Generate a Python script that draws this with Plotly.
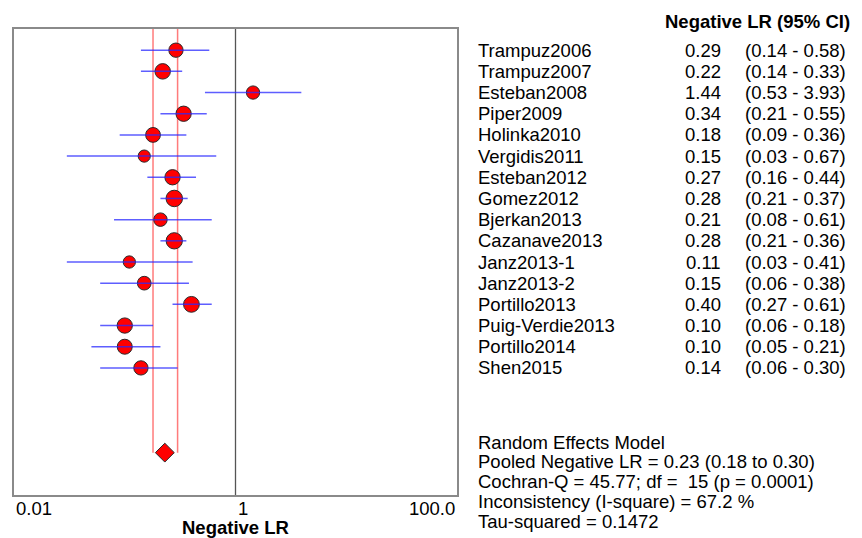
import math
import plotly.graph_objects as go

# Study-level negative likelihood ratios with 95% confidence intervals
studies = ["Trampuz2006", "Trampuz2007", "Esteban2008", "Piper2009", "Holinka2010",
           "Vergidis2011", "Esteban2012", "Gomez2012", "Bjerkan2013", "Cazanave2013",
           "Janz2013-1", "Janz2013-2", "Portillo2013", "Puig-Verdie2013", "Portillo2014",
           "Shen2015"]
neg_lr = [0.29, 0.22, 1.44, 0.34, 0.18, 0.15, 0.27, 0.28, 0.21, 0.28,
          0.11, 0.15, 0.40, 0.10, 0.10, 0.14]
ci_low = [0.14, 0.14, 0.53, 0.21, 0.09, 0.03, 0.16, 0.21, 0.08, 0.21,
          0.03, 0.06, 0.27, 0.06, 0.05, 0.06]
ci_high = [0.58, 0.33, 3.93, 0.55, 0.36, 0.67, 0.44, 0.37, 0.61, 0.36,
           0.41, 0.38, 0.61, 0.18, 0.21, 0.30]

# Relative study weights (marker area scaling)
weights = [14.3, 15.5, 13.3, 15.3, 14.8, 12.2, 15.3, 16.5, 13.5, 16.3,
           12.3, 13.7, 15.8, 15.3, 15.0, 14.3]

# Pooled random-effects estimate
pooled = 0.23
pooled_low = 0.18
pooled_high = 0.30

# Axis ticks
tick_vals = [0.01, 1, 100]
tick_text = ["0.01", "1", "100.0"]

summary_lines = [
    "Random Effects Model",
    "Pooled Negative LR = 0.23 (0.18 to 0.30)",
    "Cochran-Q = 45.77; df =  15 (p = 0.0001)",
    "Inconsistency (I-square) = 67.2 %",
    "Tau-squared = 0.1472",
]

FONT = "Liberation Sans, Arial, sans-serif"
FS = 18.5
W, H = 862, 538
ML, MR, MT, MB = 14, 405, 29, 43
PW, PH = W - ML - MR, H - MT - MB

rows = list(range(len(studies)))
pooled_row = 19


def paper_x(px):
    return (px - ML) / PW


def paper_y(py):
    return 1 - (py - MT) / PH


fig = go.Figure()

# Study point estimates
fig.add_trace(go.Scatter(
    x=neg_lr, y=rows, mode="markers",
    marker=dict(color="#ff0000", size=weights, opacity=1,
                line=dict(color="#2a2a2a", width=1)),
    hoverinfo="skip", showlegend=False,
))

# Confidence interval segments
ci_x, ci_y = [], []
for lo, hi, r in zip(ci_low, ci_high, rows):
    ci_x += [lo, hi, None]
    ci_y += [r, r, None]
fig.add_trace(go.Scatter(
    x=ci_x, y=ci_y, mode="lines",
    line=dict(color="rgba(40,40,255,0.75)", width=1.5),
    hoverinfo="skip", showlegend=False,
))

# Pooled estimate diamond
fig.add_trace(go.Scatter(
    x=[pooled], y=[pooled_row], mode="markers",
    marker=dict(symbol="diamond", color="#ff0000", size=14.5, opacity=1,
                line=dict(color="#2a2a2a", width=1)),
    hoverinfo="skip", showlegend=False,
))

# Reference line at LR = 1
fig.add_shape(type="line", xref="x", yref="paper", x0=1, x1=1, y0=0, y1=1,
              line=dict(color="#555555", width=1.3), layer="below")

# Pooled confidence limits
for v in (pooled_low, pooled_high):
    fig.add_shape(type="line", xref="x", yref="y", x0=v, x1=v,
                  y0=-1, y1=pooled_row,
                  line=dict(color="rgba(255,90,90,0.8)", width=1.5), layer="below")

annotations = []
txt_font = dict(family=FONT, size=FS, color="#000000")

# Tick labels
for v, t in zip(tick_vals, tick_text):
    anchor = "right" if v == tick_vals[-1] else "left"
    annotations.append(dict(
        x=math.log10(v), y=paper_y(508.5), xref="x", yref="paper",
        text=t, showarrow=False, xanchor=anchor, yanchor="middle", font=txt_font,
    ))

# Axis title
annotations.append(dict(
    x=0, y=paper_y(527.5), xref="x", yref="paper",
    text="<b>Negative LR</b>", showarrow=False, xanchor="center", yanchor="middle",
    font=txt_font,
))

# Table header
annotations.append(dict(
    x=paper_x(663), y=paper_y(21.5), xref="paper", yref="paper",
    text="<b>Negative LR (95% CI)</b>", showarrow=False, xanchor="left", yanchor="middle",
    font=txt_font,
))

# Study rows
for name, v, lo, hi, r in zip(studies, neg_lr, ci_low, ci_high, rows):
    annotations.append(dict(
        x=paper_x(476), y=r, xref="paper", yref="y", text=name, showarrow=False,
        xanchor="left", yanchor="middle", font=txt_font,
    ))
    annotations.append(dict(
        x=paper_x(723), y=r, xref="paper", yref="y", text=f"{v:.2f}", showarrow=False,
        xanchor="right", yanchor="middle", font=txt_font,
    ))
    annotations.append(dict(
        x=paper_x(743), y=r, xref="paper", yref="y", text=f"({lo:.2f} - {hi:.2f})",
        showarrow=False, xanchor="left", yanchor="middle", font=txt_font,
    ))

# Summary statistics
for i, line in enumerate(summary_lines):
    annotations.append(dict(
        x=paper_x(476), y=paper_y(442 + i * 19.8), xref="paper", yref="paper",
        text=line, showarrow=False, xanchor="left", yanchor="middle", font=txt_font,
    ))

fig.update_layout(
    width=W, height=H,
    margin=dict(l=ML, r=MR, t=MT, b=MB, pad=0),
    paper_bgcolor="#ffffff", plot_bgcolor="#ffffff",
    annotations=annotations,
    xaxis=dict(type="log", range=[-2, 2], showgrid=False, zeroline=False,
               showticklabels=False, ticks="", showline=True, mirror=True,
               linecolor="#8a8a8a", linewidth=2, fixedrange=True),
    yaxis=dict(range=[21, -1], showgrid=False, zeroline=False,
               showticklabels=False, ticks="", showline=True, mirror=True,
               linecolor="#8a8a8a", linewidth=2, fixedrange=True),
    showlegend=False,
)

fig.write_html("out.html")
